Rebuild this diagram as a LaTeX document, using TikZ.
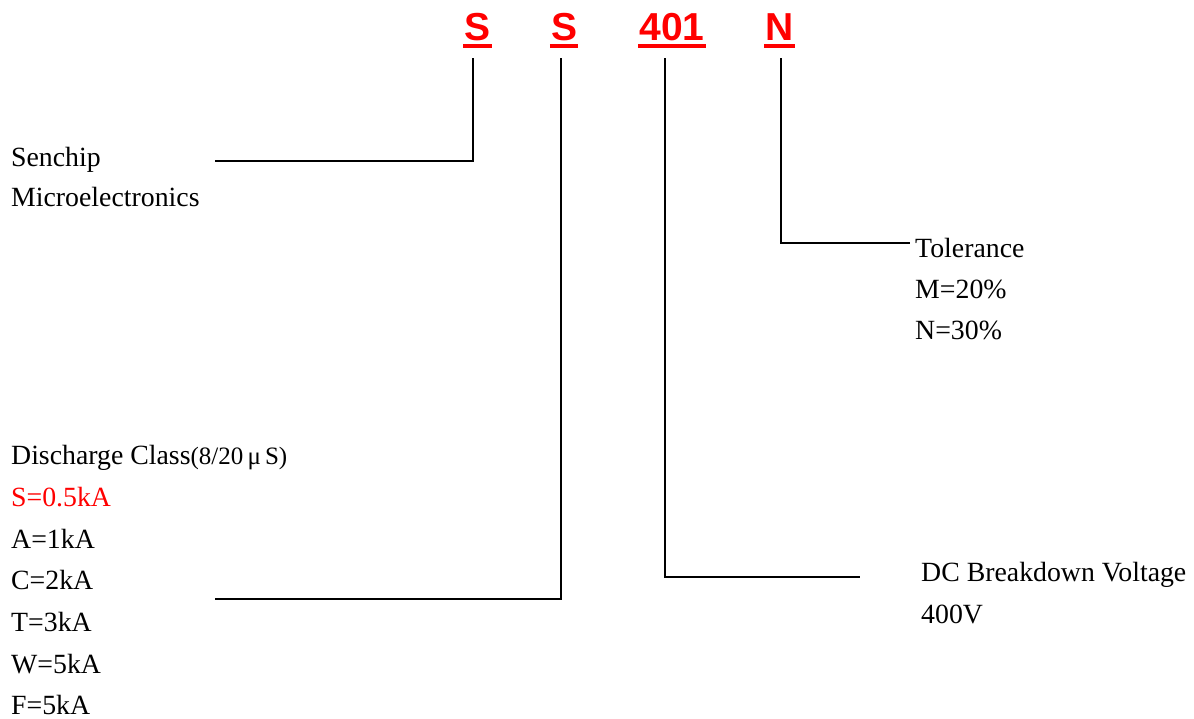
\documentclass[tikz,border=0pt]{standalone}
\usepackage{fontspec}
\setmainfont{Liberation Serif}
\newfontfamily\hdrfont{Liberation Sans}
\definecolor{pnred}{RGB}{255,0,0}
\begin{document}
\begin{tikzpicture}[x=1pt,y=-1pt,
  hdr/.style={anchor=base,inner sep=0pt,text=pnred,font=\hdrfont\bfseries\fontsize{39}{39}\selectfont},
  uline/.style={pnred,line width=4pt},
  lbl/.style={anchor=base west,inner sep=0pt,font=\fontsize{27.8}{27.8}\selectfont},
  conn/.style={black,line width=1.8pt}]
\useasboundingbox (0,0) rectangle (1194,718);
% header
\node[hdr] (hS1) at (477.5,40.5) {S};
\node[hdr] (hS2) at (564,40.5) {S};
\node[hdr] (h401) at (672,40.5) {401};
\node[hdr] (hN) at (779.5,40.5) {N};
\foreach \n in {hS1,hS2,h401,hN}{
  \draw[uline] ([xshift=-1pt,yshift=-5pt]\n.base west) -- ([xshift=1pt,yshift=-5pt]\n.base east);
}
% labels
\node[lbl] (sen) at (11,166) {Senchip};
\node[lbl] (mic) at (11,206) {Microelectronics};
\node[lbl] (tol) at (915,257) {Tolerance};
\node[lbl] (tm) at (915,298) {M=20\%};
\node[lbl] (tn) at (915,339) {N=30\%};
\node[lbl] (dis) at (11,464) {Discharge Class{\fontsize{25}{25}\selectfont(8/20\,μ\,S)}};
\node[lbl,text=pnred] (ds) at (11,506) {S=0.5kA};
\node[lbl] (da) at (11,548) {A=1kA};
\node[lbl] (dc) at (11,589) {C=2kA};
\node[lbl] (dt) at (11,631) {T=3kA};
\node[lbl] (dw) at (11,673) {W=5kA};
\node[lbl] (df) at (11,714) {F=5kA};
\node[lbl] (dcb) at (921,581) {DC Breakdown Voltage};
\node[lbl] (dcv) at (921,623) {400V};
% connector coordinates
\coordinate (t1) at (473,58);
\coordinate (e1) at (215,161);
\coordinate (t2) at (561,58);
\coordinate (e2) at (215,599);
\coordinate (t3) at (665,58);
\coordinate (e3) at (860,577);
\coordinate (t4) at (781,58);
\coordinate (e4) at (910,243);
\draw[conn] (t1) |- (e1);
\draw[conn] (t2) |- (e2);
\draw[conn] (t3) |- (e3);
\draw[conn] (t4) |- (e4);
\end{tikzpicture}
\end{document}
